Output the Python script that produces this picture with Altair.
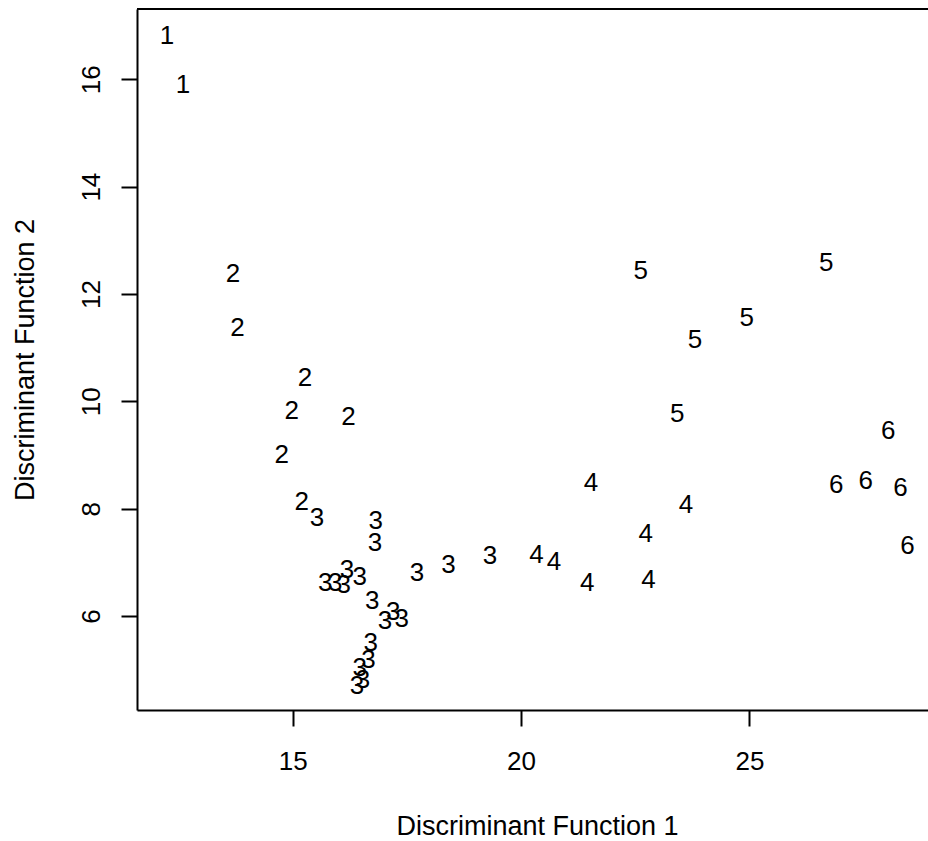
import altair as alt
import pandas as pd

# Discriminant scores, one entry per specimen, labelled by its group number
group = (
    [1, 1]
    + [2] * 7
    + [3] * 20
    + [4] * 7
    + [5] * 5
    + [6] * 5
)
ld1 = [
    12.25, 12.60,
    13.69, 13.79, 15.27, 14.98, 16.22, 14.76, 15.20,
    15.53, 16.82, 16.80, 15.71, 15.93, 16.12, 16.19, 16.47, 17.72, 18.41,
    19.32, 16.74, 17.02, 17.20, 17.39, 16.71, 16.66, 16.47, 16.54, 16.41,
    20.34, 20.72, 21.53, 23.61, 22.73, 21.45, 22.79,
    22.62, 26.68, 24.94, 23.81, 23.42,
    28.04, 26.90, 27.55, 28.31, 28.46,
]
ld2 = [
    16.83, 15.92,
    12.40, 11.39, 10.47, 9.85, 9.73, 9.02, 8.15,
    7.86, 7.79, 7.38, 6.64, 6.64, 6.60, 6.89, 6.76, 6.83, 6.98,
    7.14, 6.30, 5.93, 6.11, 5.98, 5.53, 5.21, 5.05, 4.84, 4.73,
    7.17, 7.04, 8.50, 8.10, 7.55, 6.64, 6.70,
    12.46, 12.60, 11.58, 11.17, 9.79,
    9.47, 8.47, 8.55, 8.42, 7.34,
]
x_ticks = [15, 20, 25]
y_ticks = [6, 8, 10, 12, 14, 16]

df = pd.DataFrame({"ld1": ld1, "ld2": ld2, "group": [str(g) for g in group]})

FONT = "Liberation Sans"
W, H = 791, 701

x_scale = alt.Scale(domain=[11.591, 28.911], nice=False, zero=False)
y_scale = alt.Scale(domain=[4.248, 17.310], nice=False, zero=False)

points = alt.Chart(df).mark_text(
    font=FONT, fontSize=26, color="black", baseline="middle", align="center", dy=1.5
).encode(
    x=alt.X(
        "ld1:Q",
        scale=x_scale,
        axis=alt.Axis(
            title="Discriminant Function 1",
            values=x_ticks,
            grid=False,
            domainColor="black",
            domainWidth=2,
            tickColor="black",
            tickWidth=2,
            tickSize=16,
            labelFont=FONT,
            labelFontSize=26,
            labelColor="black",
            labelPadding=22,
            labelFlush=False,
            titleFont=FONT,
            titleFontSize=27,
            titleFontWeight="normal",
            titleColor="black",
            titleX=400,
            titleY=116.5,
            titleAlign="center",
            titleBaseline="middle",
        ),
    ),
    y=alt.Y(
        "ld2:Q",
        scale=y_scale,
        axis=alt.Axis(
            title="Discriminant Function 2",
            values=y_ticks,
            grid=False,
            domainColor="black",
            domainWidth=2,
            tickColor="black",
            tickWidth=2,
            tickSize=16,
            labelFont=FONT,
            labelFontSize=26,
            labelColor="black",
            labelAngle=270,
            labelAlign="center",
            labelBaseline="bottom",
            labelPadding=17,
            labelFlush=False,
            titleFont=FONT,
            titleFontSize=27,
            titleFontWeight="normal",
            titleColor="black",
            titleAngle=270,
            titleX=-112,
            titleY=H / 2,
            titleAlign="center",
            titleBaseline="middle",
        ),
    ),
    text="group:N",
)

# upper edge of the plot frame
top_edge = alt.Chart(df).mark_rule(color="black", strokeWidth=2).encode(
    x=alt.value(0), x2=alt.value(W), y=alt.value(0)
)

chart = (
    alt.layer(points, top_edge)
    .properties(
        width=W,
        height=H,
        autosize=alt.AutoSizeParams(type="none"),
        padding={"left": 137, "top": 9, "right": 0, "bottom": 131},
        background="white",
    )
    .configure_view(stroke=None)
)

chart.save("out.html", embed_options={"renderer": "svg", "actions": False})
